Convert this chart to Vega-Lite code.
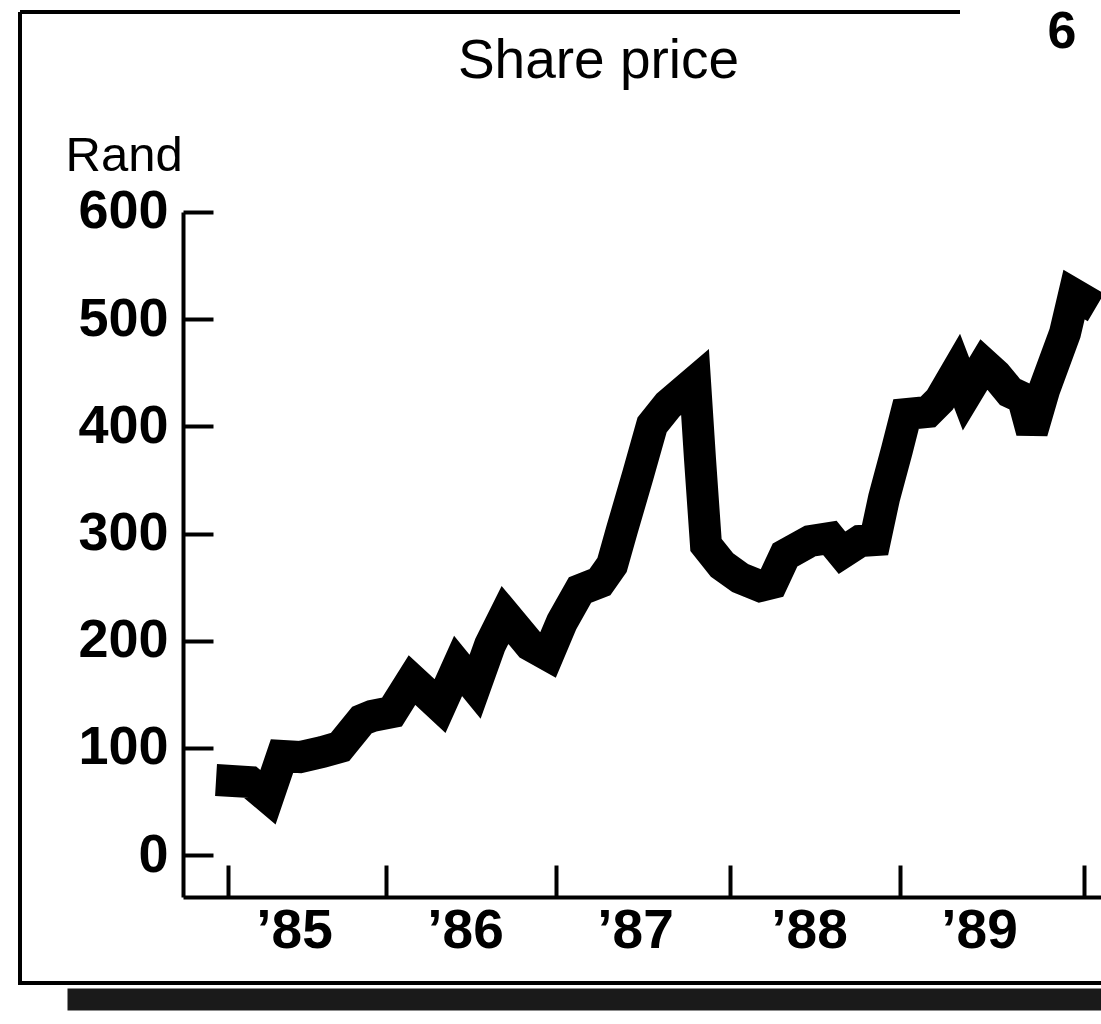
{
  "$schema": "https://vega.github.io/schema/vega-lite/v6.json",
  "width": 1081,
  "height": 971,
  "autosize": {"type": "none"},
  "padding": {"left": 20, "top": 12, "right": 0, "bottom": 41},
  "background": "white",
  "config": {
    "view": {"stroke": "black", "strokeWidth": 4, "strokeDash": [940, 1112, 2052, 0]},
    "font": "Liberation Sans",
    "axis": {"grid": false}
  },
  "title": {
    "text": "Share price",
    "orient": "top",
    "anchor": "middle",
    "frame": "group",
    "offset": 0,
    "dy": 127,
    "dx": 38,
    "baseline": "alphabetic",
    "fontSize": 55,
    "fontWeight": "normal",
    "font": "Liberation Sans",
    "color": "black"
  },
  "datasets": {
    "price": [
      {"year": 1984.930, "value": 70.0},
      {"year": 1985.139, "value": 68.1},
      {"year": 1985.253, "value": 54.0},
      {"year": 1985.342, "value": 92.4},
      {"year": 1985.456, "value": 91.4},
      {"year": 1985.595, "value": 96.1},
      {"year": 1985.709, "value": 100.8},
      {"year": 1985.848, "value": 126.0},
      {"year": 1985.911, "value": 129.7},
      {"year": 1986.035, "value": 133.4},
      {"year": 1986.153, "value": 163.3},
      {"year": 1986.318, "value": 139.0},
      {"year": 1986.424, "value": 176.4},
      {"year": 1986.524, "value": 157.0},
      {"year": 1986.612, "value": 196.0},
      {"year": 1986.700, "value": 224.0},
      {"year": 1986.847, "value": 196.0},
      {"year": 1986.953, "value": 186.6},
      {"year": 1987.034, "value": 217.4},
      {"year": 1987.138, "value": 247.3},
      {"year": 1987.253, "value": 254.7},
      {"year": 1987.322, "value": 270.6},
      {"year": 1987.379, "value": 303.3},
      {"year": 1987.471, "value": 354.6},
      {"year": 1987.552, "value": 401.2},
      {"year": 1987.644, "value": 419.9},
      {"year": 1987.799, "value": 441.4},
      {"year": 1987.828, "value": 368.6},
      {"year": 1987.862, "value": 289.3},
      {"year": 1987.954, "value": 270.6},
      {"year": 1988.059, "value": 258.5},
      {"year": 1988.176, "value": 251.0},
      {"year": 1988.247, "value": 253.8},
      {"year": 1988.324, "value": 279.9},
      {"year": 1988.471, "value": 293.0},
      {"year": 1988.588, "value": 295.8},
      {"year": 1988.659, "value": 282.0},
      {"year": 1988.765, "value": 293.0},
      {"year": 1988.853, "value": 293.9},
      {"year": 1988.906, "value": 333.1},
      {"year": 1988.982, "value": 377.9},
      {"year": 1989.033, "value": 411.5},
      {"year": 1989.152, "value": 413.4},
      {"year": 1989.217, "value": 424.6},
      {"year": 1989.310, "value": 452.0},
      {"year": 1989.359, "value": 430.0},
      {"year": 1989.457, "value": 458.0},
      {"year": 1989.522, "value": 447.9},
      {"year": 1989.598, "value": 432.0},
      {"year": 1989.668, "value": 426.4},
      {"year": 1989.717, "value": 395.0},
      {"year": 1989.783, "value": 433.9},
      {"year": 1989.897, "value": 487.1},
      {"year": 1989.946, "value": 523.0},
      {"year": 1990.070, "value": 511.0}
    ],
    "notes": [
      {"year": 1989.88, "value": 753.0, "label": "6"}
    ]
  },
  "layer": [
    {
      "data": {"name": "price"},
      "mark": {"type": "line", "color": "black", "strokeWidth": 32, "strokeJoin": "miter", "strokeCap": "butt", "strokeMiterLimit": 3},
      "encoding": {
        "x": {
          "field": "year",
          "type": "quantitative",
          "scale": {"domain": [1983.784, 1985, 1986, 1987, 1988, 1989, 1990, 1990.1], "range": [0, 208, 366, 536, 710, 880, 1064, 1081], "nice": false, "zero": false},
          "axis": {
            "orient": "bottom",
            "offset": -86,
            "title": null,
            "values": [1985, 1986, 1987, 1988, 1989, 1990],
            "tickSize": -32,
            "tickWidth": 4,
            "tickColor": "black",
            "domainColor": "black",
            "domainWidth": 4,
            "domainDash": [0, 163, 3000, 0],
            "labelExpr": "datum.value < 1990 ? '’' + substring(toString(datum.value), 2, 4) : ''",
            "labelFontSize": 55,
            "labelFontWeight": "bold",
            "labelColor": "black",
            "labelOffset": {"condition": {"test": "datum.value === 1985", "value": 66}, "value": 79},
            "labelPadding": 39,
            "labelFlush": false,
            "labelOverlap": false,
            "labelBound": false
          }
        },
        "y": {
          "field": "value",
          "type": "quantitative",
          "title": "Rand",
          "scale": {"domain": [-119.4, 786.6], "nice": false, "zero": false},
          "axis": {
            "orient": "left",
            "offset": -163,
            "values": [0, 100, 200, 300, 400, 500, 600],
            "format": "d",
            "tickSize": -30,
            "tickWidth": 4,
            "tickColor": "black",
            "domainColor": "black",
            "domainWidth": 4,
            "domainDash": [0, 86, 685, 1000],
            "labelFontSize": 54,
            "labelFontWeight": "bold",
            "labelColor": "black",
            "labelPadding": 45,
            "labelFlush": false,
            "labelOverlap": false,
            "labelBound": false,
            "title": "Rand",
            "titleAngle": 0,
            "titleAlign": "left",
            "titleBaseline": "alphabetic",
            "titleX": -118,
            "titleY": 158,
            "titleFontSize": 49,
            "titleFontWeight": "normal",
            "titleColor": "black"
          }
        }
      }
    },
    {
      "data": {"name": "notes"},
      "mark": {"type": "text", "fontSize": 52, "fontWeight": "bold", "baseline": "alphabetic", "align": "center", "color": "black"},
      "encoding": {
        "x": {
          "field": "year",
          "type": "quantitative",
          "axis": {
            "orient": "bottom",
            "offset": 16,
            "title": null,
            "ticks": false,
            "labels": false,
            "domainColor": "#1a1a1a",
            "domainWidth": 22,
            "domainDash": [0, 47, 3000, 0]
          }
        },
        "y": {"field": "value", "type": "quantitative", "title": "Rand"},
        "text": {"field": "label"}
      }
    }
  ],
  "resolve": {"axis": {"x": "independent"}}
}
